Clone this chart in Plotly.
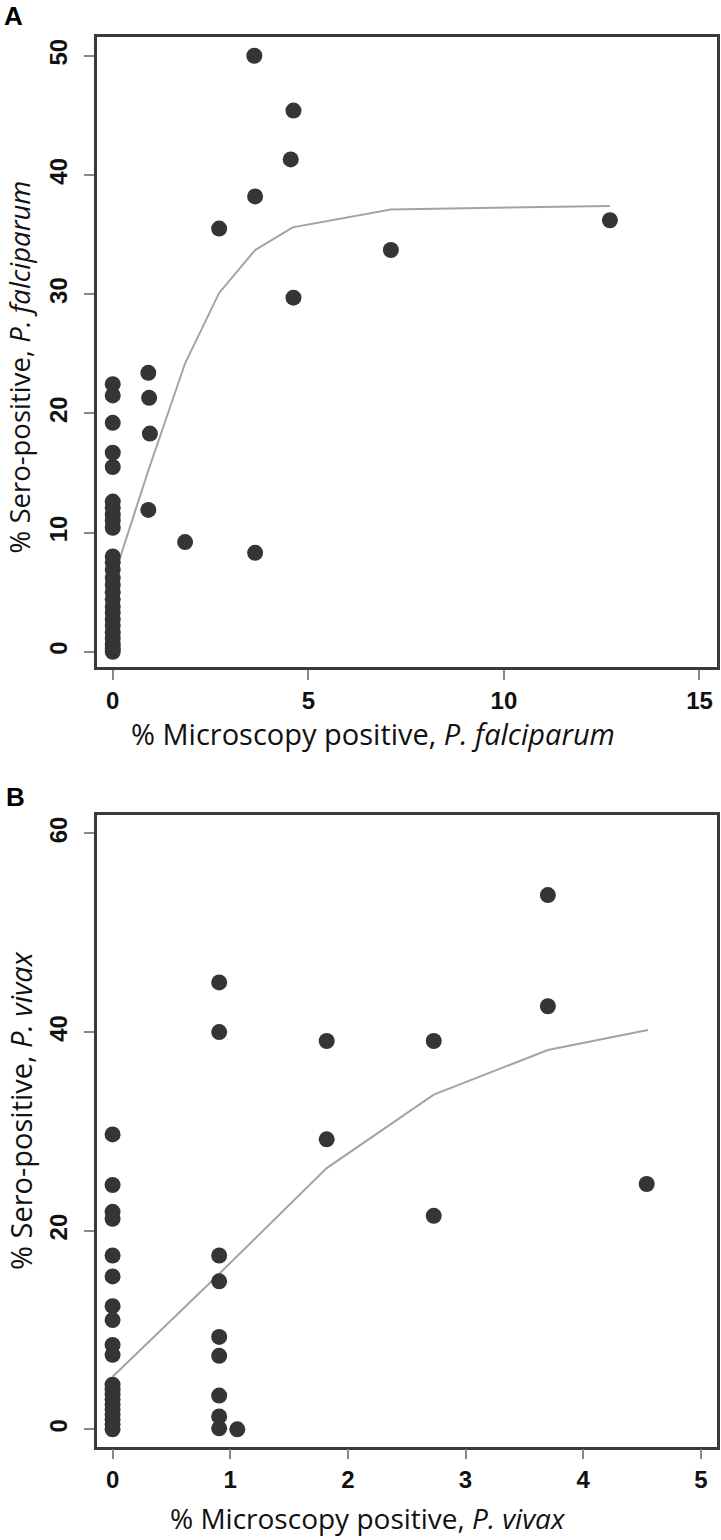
import plotly.graph_objects as go

# ---------------- Panel A: P. falciparum ----------------
a_micro = [0, 0, 0, 0, 0, 0, 0, 0, 0, 0, 0, 0, 0, 0, 0, 0, 0, 0, 0, 0, 0, 0, 0, 0, 0, 0,
           0.91, 0.93, 0.95, 0.91, 1.85, 2.72, 3.62, 3.64, 3.64, 4.55, 4.62, 4.62, 7.11, 12.71]
a_sero = [22.45, 21.5, 19.2, 16.7, 15.5, 12.6, 12.1, 11.5, 11.0, 10.4,
          8.0, 7.5, 6.9, 6.2, 5.6, 5.0, 4.4, 3.8, 3.3, 2.7, 2.2, 1.6, 1.1, 0.6, 0.0, 0.3,
          23.4, 21.3, 18.3, 11.9, 9.2, 35.5, 50.0, 38.2, 8.3, 41.3, 45.4, 29.7, 33.7, 36.2]
a_fit_x = [0, 0.91, 1.85, 2.72, 3.64, 4.6, 7.11, 12.71]
a_fit_y = [6.0, 15.2, 24.2, 30.1, 33.7, 35.6, 37.1, 37.4]
a_xticks = [0, 5, 10, 15]
a_yticks = [0, 10, 20, 30, 40, 50]

# ---------------- Panel B: P. vivax ----------------
b_micro = [0, 0, 0, 0, 0, 0, 0, 0, 0, 0, 0, 0, 0, 0, 0, 0, 0, 0, 0, 0,
           0.906, 0.906, 0.906, 0.906, 0.906, 0.906, 0.906, 0.906, 0.906, 1.06,
           1.82, 1.82, 2.73, 2.73, 3.70, 3.70, 4.54]
b_sero = [29.7, 24.6, 21.9, 21.2, 17.5, 15.4, 12.4, 11.0, 8.5, 7.5,
          4.5, 4.0, 3.5, 3.0, 2.5, 2.0, 1.5, 1.0, 0.5, 0.0,
          45.0, 40.0, 17.5, 14.9, 9.3, 7.4, 3.4, 1.3, 0.1, 0.0,
          39.1, 29.2, 39.1, 21.5, 53.8, 42.6, 24.7]
b_fit_x = [0, 0.91, 1.82, 2.73, 3.70, 4.55]
b_fit_y = [5.3, 15.7, 26.3, 33.7, 38.2, 40.2]
b_xticks = [0, 1, 2, 3, 4, 5]
b_yticks = [0, 20, 40, 60]

W, H = 721, 1540
DOT = "#353535"
FIT = "#a3a3a3"
FRAME = "#3a3a3a"
TICK_FONT = dict(family="Liberation Sans, Arial, sans-serif", size=24, color="#111111", weight="bold")
TITLE_FAMILY = "Open Sans, Lato, sans-serif"


def px(v):
    return v / W


def py(v):
    return 1 - v / H


fig = go.Figure()
fig.add_trace(go.Scatter(x=a_fit_x, y=a_fit_y, mode="lines", line=dict(color=FIT, width=2),
                         xaxis="x", yaxis="y", showlegend=False))
fig.add_trace(go.Scatter(x=a_micro, y=a_sero, mode="markers",
                         marker=dict(size=16, color=DOT, line=dict(width=0)),
                         xaxis="x", yaxis="y", showlegend=False))
fig.add_trace(go.Scatter(x=b_fit_x, y=b_fit_y, mode="lines", line=dict(color=FIT, width=2),
                         xaxis="x2", yaxis="y2", showlegend=False))
fig.add_trace(go.Scatter(x=b_micro, y=b_sero, mode="markers",
                         marker=dict(size=16, color=DOT, line=dict(width=0)),
                         xaxis="x2", yaxis="y2", showlegend=False))

common = dict(showline=True, mirror=True, linecolor=FRAME, linewidth=2.5,
              ticks="outside", ticklen=10, tickwidth=2, tickcolor="#888888",
              showgrid=False, zeroline=False, tickfont=TICK_FONT)

xdom = [px(96.7), px(716.7)]
fig.update_layout(
    width=W, height=H,
    margin=dict(l=0, r=0, t=0, b=0),
    paper_bgcolor="white", plot_bgcolor="white",
    xaxis=dict(domain=xdom, range=[-0.41, 15.44], tickvals=a_xticks, anchor="y",
               ticklabelstandoff=0, **common),
    yaxis=dict(domain=[py(667), py(37)], range=[-1.28, 51.57], tickvals=a_yticks, anchor="x",
               tickangle=-90, ticklabelstandoff=7, **common),
    xaxis2=dict(domain=xdom, range=[-0.135, 5.135], tickvals=b_xticks, anchor="y2",
                ticklabelstandoff=0, **common),
    yaxis2=dict(domain=[py(1446.7), py(815)], range=[-1.75, 61.86], tickvals=b_yticks, anchor="x2",
                tickangle=-90, ticklabelstandoff=7, **common),
)

annotations = [
    dict(text="<b>A</b>", x=px(14), y=py(16)),
    dict(text="<b>B</b>", x=px(15), y=py(797)),
]
for a in annotations:
    a.update(xref="paper", yref="paper", showarrow=False, xanchor="center", yanchor="middle",
             font=dict(family="Liberation Sans, Arial, sans-serif", size=26, color="#000000"))

titles = [
    dict(text="% Microscopy positive, <i>P. falciparum</i>", x=px(373), y=py(733), textangle=0, size=29),
    dict(text="% Sero-positive, <i>P. falciparum</i>", x=px(19.5), y=py(367), textangle=-90, size=27.5),
    dict(text="% Microscopy positive, <i>P. vivax</i>", x=px(368), y=py(1518), textangle=0, size=28),
    dict(text="% Sero-positive, <i>P. vivax</i>", x=px(20), y=py(1111), textangle=-90, size=29),
]
for t in titles:
    s = t.pop("size")
    t.update(xref="paper", yref="paper", showarrow=False, xanchor="center", yanchor="middle",
             font=dict(family=TITLE_FAMILY, size=s, color="#111111"))

fig.update_layout(annotations=annotations + titles)
fig.write_html("out.html", config={"displayModeBar": False},
               post_script="document.body.style.margin='0px';document.body.style.overflow='hidden';")
